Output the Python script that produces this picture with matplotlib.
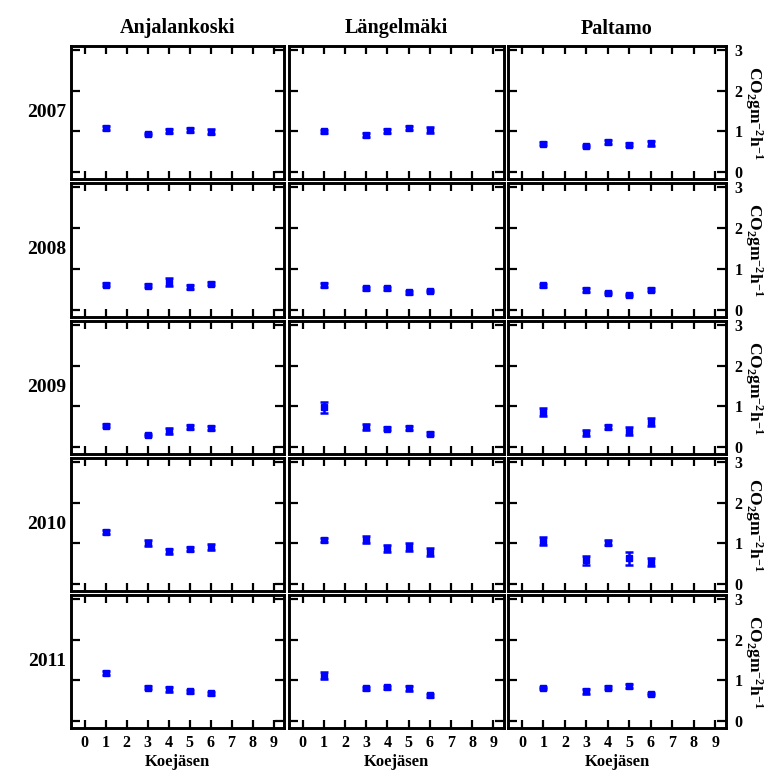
import matplotlib
matplotlib.use("Agg")
import matplotlib.pyplot as plt

sites = ["Anjalankoski", "Längelmäki", "Paltamo"]
years = ["2007", "2008", "2009", "2010", "2011"]
x_members = [1, 3, 4, 5, 6]
x_ticks = [0, 1, 2, 3, 4, 5, 6, 7, 8, 9]
y_ticks = [0, 1, 2, 3]

# values[year][site]
values = {
    "2007": {"Anjalankoski": [1.09, 0.94, 1.01, 1.03, 0.99],
             "Längelmäki": [1.00, 0.91, 1.02, 1.08, 1.04],
             "Paltamo": [0.70, 0.64, 0.74, 0.67, 0.71]},
    "2008": {"Anjalankoski": [0.62, 0.59, 0.68, 0.56, 0.64],
             "Längelmäki": [0.60, 0.53, 0.53, 0.43, 0.47],
             "Paltamo": [0.60, 0.48, 0.42, 0.37, 0.50]},
    "2009": {"Anjalankoski": [0.53, 0.30, 0.40, 0.49, 0.48],
             "Längelmäki": [0.98, 0.49, 0.45, 0.47, 0.33],
             "Paltamo": [0.87, 0.35, 0.49, 0.40, 0.62]},
    "2010": {"Anjalankoski": [1.28, 1.01, 0.81, 0.86, 0.91],
             "Längelmäki": [1.09, 1.09, 0.88, 0.91, 0.79],
             "Paltamo": [1.06, 0.58, 1.02, 0.63, 0.55]},
    "2011": {"Anjalankoski": [1.18, 0.82, 0.78, 0.73, 0.68],
             "Längelmäki": [1.12, 0.81, 0.83, 0.81, 0.63],
             "Paltamo": [0.81, 0.73, 0.82, 0.86, 0.67]},
}
errors = {
    "2007": {"Anjalankoski": [0.05, 0.03, 0.05, 0.05, 0.06],
             "Längelmäki": [0.04, 0.05, 0.05, 0.05, 0.07],
             "Paltamo": [0.03, 0.03, 0.06, 0.04, 0.06]},
    "2008": {"Anjalankoski": [0.03, 0.04, 0.10, 0.04, 0.04],
             "Längelmäki": [0.05, 0.04, 0.04, 0.03, 0.03],
             "Paltamo": [0.04, 0.05, 0.03, 0.03, 0.04]},
    "2009": {"Anjalankoski": [0.03, 0.02, 0.07, 0.05, 0.05],
             "Längelmäki": [0.13, 0.08, 0.04, 0.05, 0.04],
             "Paltamo": [0.10, 0.08, 0.05, 0.10, 0.10]},
    "2010": {"Anjalankoski": [0.06, 0.08, 0.06, 0.05, 0.07],
             "Längelmäki": [0.05, 0.08, 0.09, 0.10, 0.09],
             "Paltamo": [0.09, 0.10, 0.07, 0.15, 0.10]},
    "2011": {"Anjalankoski": [0.05, 0.04, 0.06, 0.04, 0.04],
             "Längelmäki": [0.09, 0.04, 0.04, 0.06, 0.04],
             "Paltamo": [0.03, 0.06, 0.04, 0.04, 0.03]},
}
x_label = "Koejäsen"
y_label = r"CO$_2$gm$^{-2}$h$^{-1}$"

plt.rcParams['font.family'] = ['Liberation Serif', 'DejaVu Serif']
plt.rcParams['mathtext.fontset'] = 'custom'
plt.rcParams['mathtext.rm'] = 'Liberation Serif:bold'
plt.rcParams['mathtext.it'] = 'Liberation Serif:bold'
plt.rcParams['mathtext.bf'] = 'Liberation Serif:bold'

W, H = 772, 771
fig = plt.figure(figsize=(W / 100, H / 100), dpi=100)

col_left = [71, 289, 508]
col_right = [284, 504, 726]
row_top = [46, 183, 321, 458, 595]
row_bot = [179, 317, 454, 591, 728]

for r, yr in enumerate(years):
    for c, site in enumerate(sites):
        l = col_left[c] / W
        w = (col_right[c] - col_left[c]) / W
        b = 1 - row_bot[r] / H
        h = (row_bot[r] - row_top[r]) / H
        ax = fig.add_axes([l, b, w, h])
        ax.errorbar(x_members, values[yr][site], yerr=errors[yr][site],
                    fmt='s', color='#0000ff', ecolor='#0000ff', ms=4.5,
                    capsize=2.8, elinewidth=1.8, capthick=1.8, mec='#0000ff')
        ax.set_xlim(-0.65, 9.5)
        ax.set_ylim(-0.17, 3.1)
        ax.set_xticks(x_ticks)
        ax.set_yticks(y_ticks)
        for s in ax.spines.values():
            s.set_linewidth(2.1)
        ax.tick_params(axis='x', direction='in', length=5.5, width=1.6,
                       top=True, bottom=True, labelsize=11.5, pad=5)
        ax.tick_params(axis='y', direction='in', length=6.5, width=1.6,
                       left=True, right=True, labelsize=11.5)
        if r == len(years) - 1:
            ax.set_xticklabels([str(t) for t in x_ticks], fontweight='bold')
            ax.set_xlabel(x_label, fontsize=12, fontweight='bold', labelpad=2)
        else:
            ax.set_xticklabels([])
        if c == 2:
            ax.tick_params(axis='y', labelleft=False, labelright=True, pad=6)
            ax.set_yticklabels([str(t) for t in y_ticks], fontweight='bold')
            ax.yaxis.set_label_position('right')
            ax.set_ylabel(y_label, rotation=-90, fontsize=12.5, fontweight='bold',
                          labelpad=16)
        else:
            ax.set_yticklabels([])
        if r == 0:
            ax.set_title(site, fontsize=14.5, fontweight='bold', pad=9)
        if c == 0:
            fig.text(47 / W, 1 - (row_top[r] + row_bot[r]) / 2 / H, yr,
                     fontsize=14, fontweight='bold', ha='center', va='center')

fig.savefig("out.png", dpi=100)
